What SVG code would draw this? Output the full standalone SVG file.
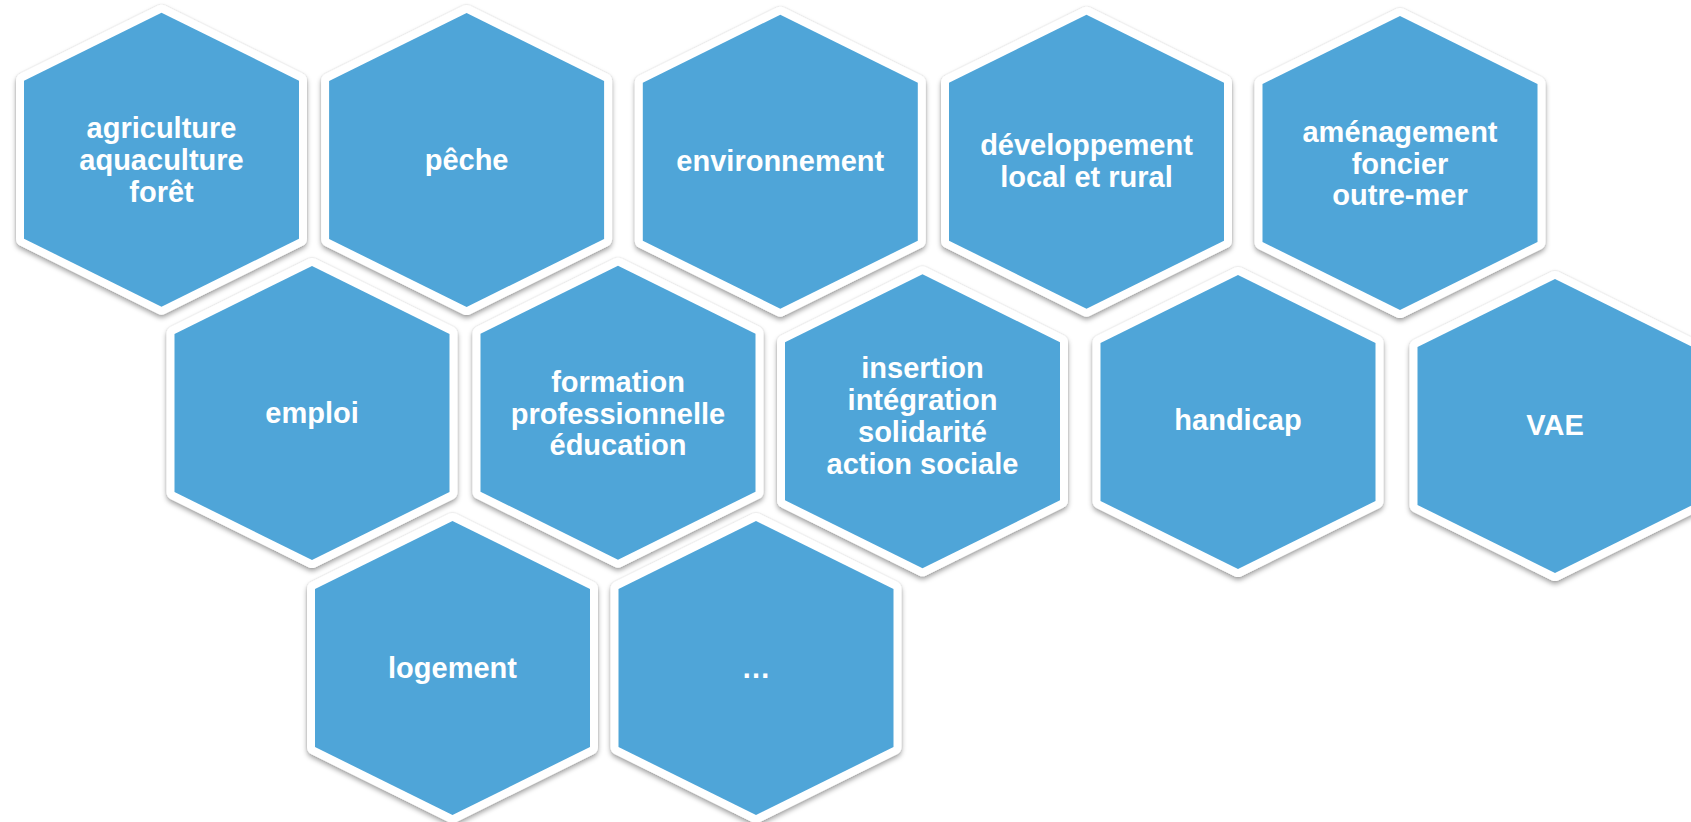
<svg xmlns="http://www.w3.org/2000/svg" xmlns:xlink="http://www.w3.org/1999/xlink" width="1691" height="822" viewBox="0 0 1691 822">
<style>
.hex{fill:#4FA5D8;stroke:#FFFFFF;stroke-width:16;stroke-linejoin:round;paint-order:stroke;filter:url(#sh);}
.lbl{font-family:"Liberation Sans",Arial,sans-serif;font-weight:bold;font-size:29px;fill:#FFFFFF;text-anchor:middle;}
</style>
<defs>
<path id="hx" d="M0,0 L137.5,68 L137.5,226 L0,294 L-137.5,226 L-137.5,68 Z"/>
<filter id="sh" x="-10%" y="-10%" width="120%" height="120%">
<feDropShadow dx="0" dy="0" stdDeviation="1" flood-color="#000" flood-opacity="0.15" result="a"/>
<feDropShadow in="a" dx="0" dy="3" stdDeviation="2.5" flood-color="#000" flood-opacity="0.35"/>
</filter>
</defs>
<rect width="1691" height="822" fill="#FFFFFF"/>
<g id="connectors"></g>
<g id="n11"><use xlink:href="#hx" class="hex" transform="translate(452.5,521)"/><text class="lbl" x="452.5" y="678">logement</text></g>
<g id="n12"><use xlink:href="#hx" class="hex" transform="translate(756,521)"/><text class="lbl" x="756" y="678">…</text></g>
<g id="n6"><use xlink:href="#hx" class="hex" transform="translate(312,266)"/><text class="lbl" x="312" y="423">emploi</text></g>
<g id="n7"><use xlink:href="#hx" class="hex" transform="translate(618,265.7)"/><text class="lbl" x="618"><tspan x="618" y="392">formation</tspan><tspan x="618" y="424">professionnelle</tspan><tspan x="618" y="455">éducation</tspan></text></g>
<g id="n8"><use xlink:href="#hx" class="hex" transform="translate(922.5,274.3)"/><text class="lbl" x="922.5"><tspan x="922.5" y="378">insertion</tspan><tspan x="922.5" y="410">intégration</tspan><tspan x="922.5" y="442">solidarité</tspan><tspan x="922.5" y="474">action sociale</tspan></text></g>
<g id="n9"><use xlink:href="#hx" class="hex" transform="translate(1238,275)"/><text class="lbl" x="1238" y="430">handicap</text></g>
<g id="n10"><use xlink:href="#hx" class="hex" transform="translate(1555,279)"/><text class="lbl" x="1555" y="435">VAE</text></g>
<g id="n1"><use xlink:href="#hx" class="hex" transform="translate(161.5,12.7)"/><text class="lbl" x="161.5"><tspan x="161.5" y="138">agriculture</tspan><tspan x="161.5" y="170">aquaculture</tspan><tspan x="161.5" y="202">forêt</tspan></text></g>
<g id="n2"><use xlink:href="#hx" class="hex" transform="translate(466.6,13)"/><text class="lbl" x="466.6" y="170">pêche</text></g>
<g id="n3"><use xlink:href="#hx" class="hex" transform="translate(780.3,14.7)"/><text class="lbl" x="780.3" y="171">environnement</text></g>
<g id="n4"><use xlink:href="#hx" class="hex" transform="translate(1086.5,14.7)"/><text class="lbl" x="1086.5"><tspan x="1086.5" y="155">développement</tspan><tspan x="1086.5" y="187">local et rural</tspan></text></g>
<g id="n5"><use xlink:href="#hx" class="hex" transform="translate(1400,16)"/><text class="lbl" x="1400"><tspan x="1400" y="142">aménagement</tspan><tspan x="1400" y="174">foncier</tspan><tspan x="1400" y="205">outre-mer</tspan></text></g>
</svg>
